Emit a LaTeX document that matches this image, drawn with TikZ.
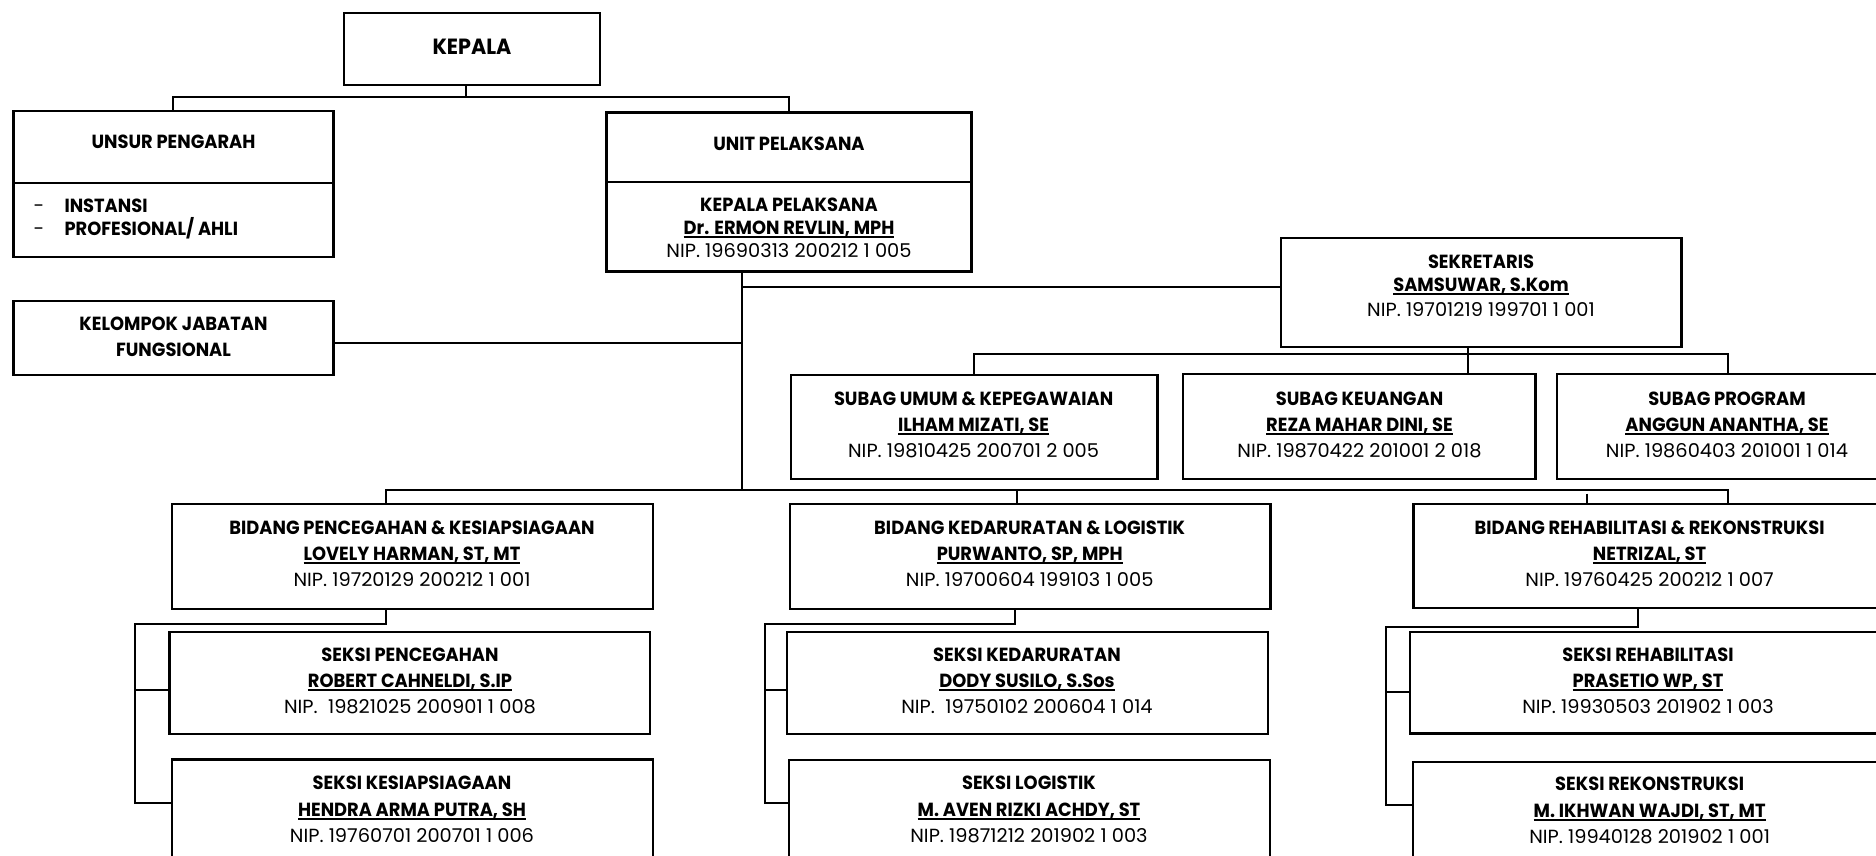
\documentclass[tikz,border=0pt]{standalone}
\usepackage{fontspec}
\setmainfont{Poppins}[FakeStretch=1.02,BoldFeatures={FakeStretch=0.94}]
\usetikzlibrary{calc}
\newcommand\myul[1]{\setbox0=\hbox{#1}\rlap{\rule[-3.6pt]{\wd0}{1.8pt}}\box0}
\newcommand\mkbox[5]{\node[box, minimum width={(#4)-(#2)}, minimum height={(#5)-(#3)}] (#1) at ({((#2)+(#4))/2},{((#3)+(#5))/2}) {};}
\newcommand\mkthree[8]{%
  \node[bt] (#1t) at (#2,#3) {#6};
  \node[bt] (#1p) at (#2,#4) {\myul{#7}};
  \node[rt] (#1n) at (#2,#5) {#8};}
\tikzset{
  box/.style={draw, line width=2.2pt, inner sep=0pt, outer sep=0pt, rectangle},
  conn/.style={line width=2pt},
  bt/.style={anchor=base, inner sep=0pt, font=\bfseries\fontsize{19}{22}\selectfont},
  rt/.style={anchor=base, inner sep=0pt, font=\fontsize{19}{22}\selectfont},
}
\begin{document}
\begin{tikzpicture}[x=1pt,y=-1pt]
\useasboundingbox (0,0) rectangle (1876,855);
\fill[white] (0,0) rectangle (1876,855);
\begin{scope}
\clip (0,0) rectangle (1876,855);
% ---------- boxes ----------
\mkbox{kepala}{344}{12.7}{600}{85}
\mkbox{unsur}{13.4}{110.7}{333.5}{256.7}
\mkbox{kelompok}{13.4}{301}{333.5}{375}
\mkbox{unit}{606.5}{112.5}{971.4}{271.5}
\mkbox{sek}{1281}{238.3}{1681.5}{346.7}
\mkbox{umum}{791}{375}{1157.5}{479.3}
\mkbox{keu}{1182.6}{374.3}{1535.5}{479.3}
\mkbox{prog}{1557}{374.3}{1910}{479.3}
\mkbox{bp}{172}{504}{653}{609}
\mkbox{bk}{789.8}{504}{1270.4}{609}
\mkbox{br}{1413.5}{504}{1910}{608.3}
\mkbox{sp}{169.5}{631.7}{650.3}{734}
\mkbox{ss}{172}{759.5}{653}{880}
\mkbox{skd}{786.7}{631.7}{1268}{734}
\mkbox{slg}{789}{760}{1270}{880}
\mkbox{srh}{1410}{631.7}{1910}{733.5}
\mkbox{srk}{1412.7}{762}{1910}{880}
% dividers
\coordinate (udiv) at (0,182.7);
\draw[box] (unsur.west |- udiv) -- (unsur.east |- udiv);
\coordinate (pdiv) at (0,181.7);
\draw[box] (unit.west |- pdiv) -- (unit.east |- pdiv);
% ---------- connectors ----------
\coordinate (kb) at (465.6,96.7);
\draw[conn] (kb |- kepala.south) -- (kb);
\draw[conn] (unsur.north) |- (kb) -| (unit.north);
\coordinate (bb) at (386,489.5);
\coordinate (bbr) at (1728,489.5);
\coordinate (vx) at (742,287);
\draw[conn] (vx |- unit.south) -- (vx |- bb);
\draw[conn] (vx) -- (vx -| sek.west);
\coordinate (kl) at (742,342.5);
\draw[conn] (kl -| kelompok.east) -- (kl);
\coordinate (sb) at (1468,354.3);
\coordinate (pbus) at (1727.5,354.3);
\draw[conn] (umum.north) |- (pbus) -- (pbus |- prog.north);
\draw[conn] (sb |- sek.south) -- (sb |- keu.north);
\draw[conn] (bb |- bp.north) -- (bb) -- (bbr) -- (bbr |- br.north);
\coordinate (bkj) at (1017,489.5);
\draw[conn] (bkj) -- (bkj |- bk.north);
\coordinate (bs) at (1587,493.5);
\draw[conn] (bs) -- (bs |- br.north);
% bidang pencegahan
\coordinate (pj) at (386,624);
\coordinate (pl) at (135,624);
\coordinate (pa) at (135,690);
\coordinate (pz) at (135,802.7);
\draw[conn] (pj |- bp.south) -- (pj) -- (pl) -- (pz) -- (pz -| ss.west);
\draw[conn] (pa) -- (pa -| sp.west);
% bidang kedaruratan
\coordinate (kj) at (1014.5,624);
\coordinate (kl2) at (765,624);
\coordinate (ka) at (765,690);
\coordinate (kz) at (765,802.7);
\draw[conn] (kj |- bk.south) -- (kj) -- (kl2) -- (kz) -- (kz -| slg.west);
\draw[conn] (ka) -- (ka -| skd.west);
% bidang rehab
\coordinate (rj) at (1638.4,626.5);
\coordinate (rl) at (1386,626.5);
\coordinate (ra) at (1386,692.3);
\coordinate (rz) at (1386,805);
\draw[conn] (rj |- br.south) -- (rj) -- (rl) -- (rz) -- (rz -| srk.west);
\draw[conn] (ra) -- (ra -| srh.west);
% ---------- texts ----------
\node[bt, font=\bfseries\fontsize{22}{24}\selectfont] (kepalat) at (472,54.7) {KEPALA};
\node[bt] (unsurt) at (173.5,148.3) {UNSUR PENGARAH};
\node[rt] (d1) at (39,212.7) {-};
\node[rt] (d2) at (39,235) {-};
\node[bt, anchor=base west] (i1) at (64.3,212.7) {INSTANSI};
\node[bt, anchor=base west] (i2) at (64.3,235) {PROFESIONAL/ AHLI};
\node[bt] (kel1) at (173.5,330) {KELOMPOK JABATAN};
\node[bt] (kel2) at (173.5,356.6) {FUNGSIONAL};
\node[bt] (unitt) at (789,150) {UNIT PELAKSANA};
\mkthree{kp}{789}{211.6}{234.3}{257.6}{KEPALA PELAKSANA}{Dr. ERMON REVLIN, MPH}{NIP. 19690313 200212 1 005}
\mkthree{sk}{1481}{268.3}{291.6}{316.6}{SEKRETARIS}{SAMSUWAR, S.Kom}{NIP. 19701219 199701 1 001}
\mkthree{um}{973.6}{405}{431.3}{457.3}{SUBAG UMUM \& KEPEGAWAIAN}{ILHAM MIZATI, SE}{NIP. 19810425 200701 2 005}
\mkthree{ku}{1359.5}{405}{431.3}{457.3}{SUBAG KEUANGAN}{REZA MAHAR DINI, SE}{NIP. 19870422 201001 2 018}
\mkthree{pg}{1727}{405}{431.3}{457.3}{SUBAG PROGRAM}{ANGGUN ANANTHA, SE}{NIP. 19860403 201001 1 014}
\mkthree{bpx}{412}{534}{560}{586}{BIDANG PENCEGAHAN \& KESIAPSIAGAAN}{LOVELY HARMAN, ST, MT}{NIP. 19720129 200212 1 001}
\mkthree{bkx}{1029.7}{534}{560}{586}{BIDANG KEDARURATAN \& LOGISTIK}{PURWANTO, SP, MPH}{NIP. 19700604 199103 1 005}
\mkthree{brx}{1649.6}{534}{560}{586.5}{BIDANG REHABILITASI \& REKONSTRUKSI}{NETRIZAL, ST}{NIP. 19760425 200212 1 007}
\mkthree{spx}{410}{661.6}{687.6}{713.3}{SEKSI PENCEGAHAN}{ROBERT CAHNELDI, S.IP}{NIP.\ \ 19821025 200901 1 008}
\mkthree{ssx}{412}{789.5}{816}{842}{SEKSI KESIAPSIAGAAN}{HENDRA ARMA PUTRA, SH}{NIP. 19760701 200701 1 006}
\mkthree{skx}{1027}{661.6}{687.6}{713.3}{SEKSI KEDARURATAN}{DODY SUSILO, S.Sos}{NIP.\ \ 19750102 200604 1 014}
\mkthree{slx}{1029}{789.5}{816}{842}{SEKSI LOGISTIK}{M. AVEN RIZKI ACHDY, ST}{NIP. 19871212 201902 1 003}
\mkthree{srx}{1648}{661.6}{687.6}{713.3}{SEKSI REHABILITASI}{PRASETIO WP, ST}{NIP. 19930503 201902 1 003}
\mkthree{rkx}{1649.6}{790.5}{817.5}{843.5}{SEKSI REKONSTRUKSI}{M. IKHWAN WAJDI, ST, MT}{NIP. 19940128 201902 1 001}
\end{scope}
\end{tikzpicture}
\end{document}
